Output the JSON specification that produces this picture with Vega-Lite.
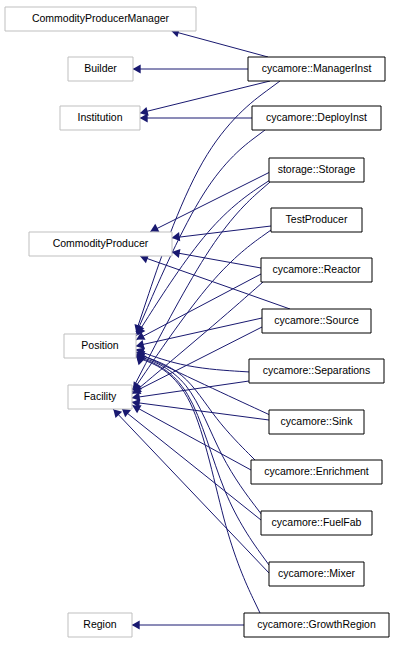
{
"$schema":"https://vega.github.io/schema/vega-lite/v6.json",
"width":420,"height":645,"padding":0,"autosize":{"type":"fit","contains":"padding"},
"background":"white","config":{"view":{"stroke":null}},
"datasets":{
"nodes":[
{"name":"CommodityProducerManager","x1":5,"x2":196,"y1":7,"y2":31,"kind":"base"},
{"name":"Builder","x1":68,"x2":133,"y1":57,"y2":81,"kind":"base"},
{"name":"Institution","x1":60,"x2":140,"y1":106,"y2":130,"kind":"base"},
{"name":"CommodityProducer","x1":29,"x2":172,"y1":232,"y2":256,"kind":"base"},
{"name":"Position","x1":64,"x2":136,"y1":334,"y2":358,"kind":"base"},
{"name":"Facility","x1":68,"x2":132,"y1":385,"y2":409,"kind":"base"},
{"name":"Region","x1":68,"x2":132,"y1":613,"y2":637,"kind":"base"},
{"name":"cycamore::ManagerInst","x1":248,"x2":385,"y1":57,"y2":81,"kind":"derived"},
{"name":"cycamore::DeployInst","x1":252,"x2":381,"y1":106,"y2":130,"kind":"derived"},
{"name":"storage::Storage","x1":269,"x2":364,"y1":158,"y2":182,"kind":"derived"},
{"name":"TestProducer","x1":271,"x2":362,"y1":208,"y2":232,"kind":"derived"},
{"name":"cycamore::Reactor","x1":261,"x2":372,"y1":258,"y2":282,"kind":"derived"},
{"name":"cycamore::Source","x1":262,"x2":371,"y1":309,"y2":333,"kind":"derived"},
{"name":"cycamore::Separations","x1":249,"x2":384,"y1":359,"y2":383,"kind":"derived"},
{"name":"cycamore::Sink","x1":269,"x2":364,"y1":410,"y2":434,"kind":"derived"},
{"name":"cycamore::Enrichment","x1":251,"x2":382,"y1":460,"y2":484,"kind":"derived"},
{"name":"cycamore::FuelFab","x1":261,"x2":372,"y1":511,"y2":535,"kind":"derived"},
{"name":"cycamore::Mixer","x1":269,"x2":364,"y1":562,"y2":586,"kind":"derived"},
{"name":"cycamore::GrowthRegion","x1":244,"x2":389,"y1":613,"y2":637,"kind":"derived"}
],
"edges":[
{"e":1,"o":0,"x":268,"y":57},{"e":1,"o":1,"x":172,"y":31},
{"e":2,"o":0,"x":248,"y":69},{"e":2,"o":1,"x":133,"y":69},
{"e":3,"o":0,"x":270,"y":81},{"e":3,"o":1,"x":140,"y":113},
{"e":4,"o":0,"x":280,"y":81},{"e":4,"o":1,"x":200,"y":140},{"e":4,"o":2,"x":136,"y":332},
{"e":5,"o":0,"x":252,"y":118},{"e":5,"o":1,"x":140,"y":118},
{"e":6,"o":0,"x":265,"y":130},{"e":6,"o":1,"x":205,"y":175},{"e":6,"o":2,"x":136,"y":334},
{"e":7,"o":0,"x":270,"y":172},{"e":7,"o":1,"x":150,"y":232},
{"e":8,"o":0,"x":270,"y":180},{"e":8,"o":1,"x":210,"y":220},{"e":8,"o":2,"x":136,"y":336},
{"e":9,"o":0,"x":270,"y":182},{"e":9,"o":1,"x":215,"y":230},{"e":9,"o":2,"x":132,"y":390},
{"e":10,"o":0,"x":271,"y":226},{"e":10,"o":1,"x":172,"y":238},
{"e":11,"o":0,"x":271,"y":230},{"e":11,"o":1,"x":215,"y":270},{"e":11,"o":2,"x":132,"y":392},
{"e":12,"o":0,"x":261,"y":268},{"e":12,"o":1,"x":172,"y":252},
{"e":13,"o":0,"x":261,"y":274},{"e":13,"o":1,"x":136,"y":340},
{"e":14,"o":0,"x":263,"y":282},{"e":14,"o":1,"x":220,"y":320},{"e":14,"o":2,"x":132,"y":394},
{"e":15,"o":0,"x":290,"y":309},{"e":15,"o":1,"x":140,"y":256},
{"e":16,"o":0,"x":262,"y":318},{"e":16,"o":1,"x":136,"y":346},
{"e":17,"o":0,"x":262,"y":327},{"e":17,"o":1,"x":132,"y":393},
{"e":18,"o":0,"x":249,"y":381},{"e":18,"o":1,"x":132,"y":398},
{"e":19,"o":0,"x":269,"y":420},{"e":19,"o":1,"x":132,"y":402},
{"e":20,"o":0,"x":251,"y":470},{"e":20,"o":1,"x":132,"y":405},
{"e":21,"o":0,"x":261,"y":520},{"e":21,"o":1,"x":122,"y":409},
{"e":22,"o":0,"x":269,"y":573},{"e":22,"o":1,"x":113,"y":409},
{"e":23,"o":0,"x":244,"y":625},{"e":23,"o":1,"x":132,"y":625},
{"e":24,"o":0,"x":250,"y":372},{"e":24,"o":1,"x":185,"y":368},{"e":24,"o":2,"x":136,"y":350},
{"e":25,"o":0,"x":270,"y":415},{"e":25,"o":1,"x":205,"y":385},{"e":25,"o":2,"x":136,"y":352},
{"e":26,"o":0,"x":255,"y":460},{"e":26,"o":1,"x":215,"y":420},{"e":26,"o":2,"x":185,"y":370},{"e":26,"o":3,"x":136,"y":354},
{"e":27,"o":0,"x":262,"y":515},{"e":27,"o":1,"x":220,"y":460},{"e":27,"o":2,"x":190,"y":375},{"e":27,"o":3,"x":136,"y":355},
{"e":28,"o":0,"x":269,"y":565},{"e":28,"o":1,"x":222,"y":500},{"e":28,"o":2,"x":192,"y":378},{"e":28,"o":3,"x":136,"y":356},
{"e":29,"o":0,"x":260,"y":613},{"e":29,"o":1,"x":225,"y":540},{"e":29,"o":2,"x":195,"y":380},{"e":29,"o":3,"x":136,"y":357}
],
"heads":[
{"x":176,"y":32,"a":285},{"x":138,"y":69,"a":270},{"x":145,"y":112,"a":256},{"x":138,"y":328,"a":199},
{"x":145,"y":118,"a":270},{"x":139,"y":329,"a":205},{"x":155,"y":229,"a":243},{"x":140,"y":331,"a":210},
{"x":136,"y":386,"a":215},{"x":177,"y":237,"a":263},{"x":137,"y":388,"a":220},{"x":177,"y":253,"a":280},
{"x":141,"y":337,"a":242},{"x":137,"y":390,"a":230},{"x":145,"y":258,"a":290},{"x":141,"y":345,"a":257},
{"x":137,"y":391,"a":243},{"x":137,"y":397,"a":262},{"x":137,"y":403,"a":277},{"x":137,"y":408,"a":299},
{"x":126,"y":412,"a":309},{"x":117,"y":413,"a":316},{"x":137,"y":625,"a":270},{"x":141,"y":351,"a":290},
{"x":141,"y":354,"a":295},{"x":141,"y":356,"a":300},{"x":141,"y":358,"a":305},{"x":140,"y":359,"a":310},{"x":140,"y":360,"a":315}
]},
"layer":[
{"data":{"name":"edges"},"mark":{"type":"line","interpolate":"basis","color":"#191970","strokeWidth":1},
 "encoding":{"x":{"field":"x","type":"quantitative","scale":{"domain":[0,420],"nice":false,"zero":false},"axis":null},
 "y":{"field":"y","type":"quantitative","scale":{"domain":[0,645],"nice":false,"zero":false,"reverse":true},"axis":null},
 "detail":{"field":"e"},"order":{"field":"o"}}},
{"data":{"name":"heads"},"mark":{"type":"point","shape":"triangle","filled":true,"color":"#191970","size":85,"opacity":1},
 "encoding":{"x":{"field":"x","type":"quantitative"},"y":{"field":"y","type":"quantitative"},"angle":{"field":"a","type":"quantitative","scale":null}}},
{"data":{"name":"nodes"},"mark":{"type":"rect","fill":"white","strokeWidth":1},
 "encoding":{"x":{"field":"x1","type":"quantitative"},"x2":{"field":"x2"},"y":{"field":"y1","type":"quantitative"},"y2":{"field":"y2"},
 "stroke":{"field":"kind","type":"nominal","scale":{"domain":["base","derived"],"range":["#bfbfbf","#000000"]},"legend":null}}},
{"data":{"name":"nodes"},"transform":[{"calculate":"(datum.x1+datum.x2)/2","as":"cx"},{"calculate":"(datum.y1+datum.y2)/2","as":"cy"}],
 "mark":{"type":"text","font":"Liberation Sans","fontSize":10.5,"color":"black","align":"center","baseline":"middle"},
 "encoding":{"x":{"field":"cx","type":"quantitative"},"y":{"field":"cy","type":"quantitative"},"text":{"field":"name"}}}
]
}
